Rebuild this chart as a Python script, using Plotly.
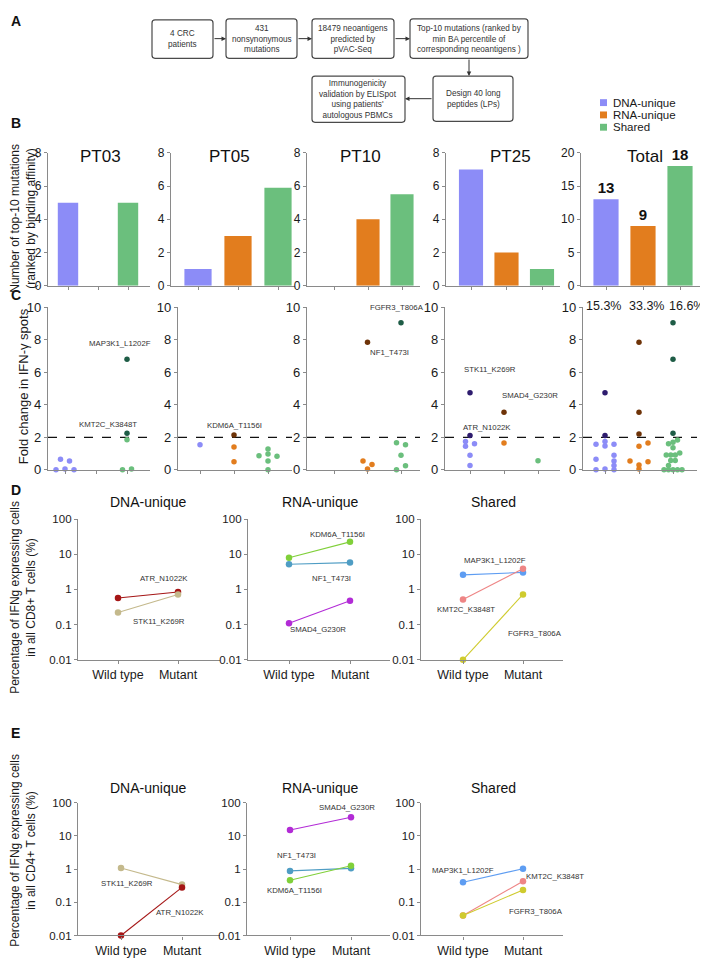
import math
import plotly.graph_objects as go

PAGE_W, PAGE_H = 708, 975
OFF = 8  # default body margin of the page
W, H = PAGE_W - OFF, PAGE_H - OFF
FONT = "Arial, 'Liberation Sans', sans-serif"

# ===================== DATA =====================
groups = ["DNA-unique", "RNA-unique", "Shared"]
patients = ["PT03", "PT05", "PT10", "PT25"]
dna_counts = [5, 1, 0, 7]
rna_counts = [0, 3, 4, 2]
shared_counts = [5, 5.9, 5.5, 1]
total_counts = [13, 9, 18]

# Panel C: fold change in IFN-g spots (group 0=DNA,1=RNA,2=Shared; slot = swarm order; sig = above threshold)
c_pt03_val = [0.0, 0.65, 0.05, 0.55, 0.0, 1.85, 0.0, 0.05, 6.8, 2.25]
c_pt03_grp = [0, 0, 0, 0, 0, 2, 2, 2, 2, 2]
c_pt03_slot = [-2, -1, 0, 1, 2, 0, -1, 1, 0, 0]
c_pt03_sig = [0, 0, 0, 0, 0, 0, 0, 0, 1, 1]

c_pt05_val = [1.55, 1.4, 0.5, 2.15, 0.87, 1.28, 0.97, 0.55, 0.0, 0.83]
c_pt05_grp = [0, 1, 1, 1, 2, 2, 2, 2, 2, 2]
c_pt05_slot = [0, 0, 0, 0, -2, 0, 0, 0, 0, 2]
c_pt05_sig = [0, 0, 0, 1, 0, 0, 0, 0, 0, 0]

c_pt10_val = [0.55, 0.05, 0.33, 7.85, 1.67, 1.55, 0.9, 0.25, 0.0, 9.05]
c_pt10_grp = [1, 1, 1, 1, 2, 2, 2, 2, 2, 2]
c_pt10_slot = [-1, 0, 1, 0, -1, 1, 0, 1, -1, 0]
c_pt10_sig = [0, 0, 0, 1, 0, 0, 0, 0, 0, 1]

c_pt25_val = [1.75, 1.45, 1.6, 0.9, 0.27, 4.75, 2.12, 1.65, 3.55, 0.56]
c_pt25_grp = [0, 0, 0, 0, 0, 0, 0, 1, 1, 2]
c_pt25_slot = [-1, -1, 1, 0, 0, 0, 0, 0, 0, 0]
c_pt25_sig = [0, 0, 0, 0, 0, 1, 1, 0, 1, 0]

c_total_val = [1.58, 0.65, 0.0, 1.75, 1.46, 0.05, 1.58, 0.9, 0.55, 0.27, 0.0, 4.75, 2.12,
               0.55, 1.45, 0.3, 0.05, 1.65, 0.5, 7.85, 3.55, 2.2,
               1.6, 1.7, 1.83, 1.36, 0.91, 0.91, 0.91, 1.03, 0.58, 0.58, 0.27, 0.0, 0.0, 0.0, 0.0, 0.0,
               9.05, 6.8, 2.25]
c_total_grp = [0] * 13 + [1] * 9 + [2] * 19
c_total_slot = [-2, -2, -2, 0, 0, 0, 2, 2, 2, 2, 2, 0, 0,
                -2, 0, 0, 0, 2, 2, 0, 0, 0,
                -1, 0, 1, 0, -1.5, -0.5, 0.5, 1.5, -0.5, 0.5, -1, -2, -1, 0, 1, 2,
                0, 0, 0]
c_total_sig = [0] * 11 + [1, 1] + [0] * 6 + [1, 1, 1] + [0] * 16 + [1, 1, 1]
c_total_pct = ["15.3%", "33.3%", "16.6%"]
c_threshold = 2

# Panels D / E: % IFNg+ cells, [wild type, mutant]
conditions = ["Wild type", "Mutant"]
d_dna_names = ["ATR_N1022K", "STK11_K269R"]
d_dna_vals = [[0.57, 0.85], [0.22, 0.72]]
d_rna_names = ["KDM6A_T1156I", "NF1_T473I", "SMAD4_G230R"]
d_rna_vals = [[8.0, 22.5], [5.2, 5.8], [0.11, 0.48]]
d_sh_names = ["MAP3K1_L1202F", "KMT2C_K3848T", "FGFR3_T806A"]
d_sh_vals = [[2.6, 3.05], [0.52, 3.9], [0.01, 0.72]]

e_dna_names = ["STK11_K269R", "ATR_N1022K"]
e_dna_vals = [[1.07, 0.34], [0.01, 0.28]]
e_rna_names = ["SMAD4_G230R", "NF1_T473I", "KDM6A_T1156I"]
e_rna_vals = [[15.0, 36.0], [0.88, 1.05], [0.46, 1.25]]
e_sh_names = ["MAP3K1_L1202F", "KMT2C_K3848T", "FGFR3_T806A"]
e_sh_vals = [[0.40, 1.02], [0.04, 0.43], [0.04, 0.235]]

# ===================== STYLE =====================
grp_colors = ["#8C8CF7", "#E27D1E", "#6BBF7D"]
sig_colors = ["#2E1C6E", "#6E3308", "#1E5C46"]
mut_colors = {
    "ATR_N1022K": "#A51616", "STK11_K269R": "#C4B98C", "KDM6A_T1156I": "#80D03A",
    "NF1_T473I": "#4F9DC4", "SMAD4_G230R": "#B22BD6", "MAP3K1_L1202F": "#5E9DF2",
    "KMT2C_K3848T": "#EE8585", "FGFR3_T806A": "#CFCB2E",
}
AX = "#8a8a8a"
TXT = "#1a1a1a"


def X(v):
    return (v - OFF) / W


def Y(v):
    return 1 - (v - OFF) / H


fig = go.Figure()
layout = dict(width=W, height=H, autosize=False, margin=dict(l=0, r=0, t=0, b=0),
              paper_bgcolor="white", plot_bgcolor="white", showlegend=False,
              font=dict(family=FONT, color=TXT))
ann = []
shapes = []


def names(i):
    s = "" if i == 1 else str(i)
    return "x" + s, "y" + s, "xaxis" + s, "yaxis" + s


def base_axis(**kw):
    d = dict(showline=True, linecolor=AX, linewidth=1.3, ticks="outside", ticklen=3,
             tickcolor=AX, tickwidth=1.2, showgrid=False, zeroline=False,
             tickfont=dict(size=12, color=TXT, family=FONT))
    d.update(kw)
    return d


# ---------- Panel A: flowchart ----------
def rrect(x0, y0, x1, y1, r=3):
    p = (f"M {X(x0+r)},{Y(y0)} L {X(x1-r)},{Y(y0)} Q {X(x1)},{Y(y0)} {X(x1)},{Y(y0+r)} "
         f"L {X(x1)},{Y(y1-r)} Q {X(x1)},{Y(y1)} {X(x1-r)},{Y(y1)} L {X(x0+r)},{Y(y1)} "
         f"Q {X(x0)},{Y(y1)} {X(x0)},{Y(y1-r)} L {X(x0)},{Y(y0+r)} Q {X(x0)},{Y(y0)} {X(x0+r)},{Y(y0)} Z")
    return dict(type="path", xref="paper", yref="paper", path=p,
                line=dict(color="#4a4a4a", width=1.2))


boxes = [
    ((152, 13, 213, 52), "4 CRC<br>patients"),
    ((226, 12, 297, 52), "431<br>nonsynonymous<br>mutations"),
    ((312, 12, 394, 52), "18479 neoantigens<br>predicted by<br>pVAC-Seq"),
    ((410, 12, 528, 52), "Top-10 mutations (ranked by<br>min BA percentile of<br>corresponding neoantigens )"),
    ((433, 70, 513, 116), "Design 40 long<br>peptides (LPs)"),
    ((312, 70, 405, 117), "Immunogenicity<br>validation by ELISpot<br>using patients'<br>autologous PBMCs"),
]
for (x0, y0, x1, y1), t in boxes:
    shapes.append(rrect(x0, y0, x1, y1))
    ann.append(dict(xref="paper", yref="paper", x=X((x0 + x1) / 2), y=Y((y0 + y1) / 2),
                    text=t, showarrow=False, font=dict(size=8.2, color="#333"),
                    xanchor="center", yanchor="middle"))
arrows = [((226, 32), (-13, 0)), ((312, 32), (-15, 0)), ((410, 32), (-16, 0)),
          ((469, 70), (0, -18)), ((405, 93), (28, 0))]
for (hx, hy), (ax, ay) in arrows:
    ann.append(dict(xref="paper", yref="paper", x=X(hx), y=Y(hy), ax=ax, ay=ay, text="",
                    showarrow=True, arrowhead=2, arrowsize=0.9, arrowwidth=1,
                    arrowcolor="#333", standoff=0, startstandoff=0))

# panel letters
for lab, ly in zip("ABCDE", [14, 118, 292, 490, 737]):
    ann.append(dict(xref="paper", yref="paper", x=X(9), y=Y(ly), text="<b>%s</b>" % lab,
                    showarrow=False, font=dict(size=14, color="#111"), xanchor="left",
                    yanchor="middle"))

# legend
for k, g in enumerate(groups):
    yc = 97 + 12.5 * k
    shapes.append(dict(type="rect", xref="paper", yref="paper", x0=X(600), x1=X(607),
                       y0=Y(yc + 3.5), y1=Y(yc - 3.5), fillcolor=grp_colors[k],
                       line=dict(width=0)))
    ann.append(dict(xref="paper", yref="paper", x=X(611), y=Y(yc), text=g, showarrow=False,
                    xanchor="left", yanchor="middle", font=dict(size=11.5, color=TXT)))

# ---------- Panel B ----------
b_geom = [(48, 150, 68, 30), (171, 295, 198, 40), (307, 420, 334, 34),
          (446, 560, 471, 35.5), (581, 702, 606, 37)]
b_top, b_bot = 148, 283
b_titles_x = [100, 230, 360, 510, 645]
b_series = [[dna_counts[i], rna_counts[i], shared_counts[i]] for i in range(4)] + [total_counts]
for i in range(5):
    xn, yn, xk, yk = names(i + 1)
    x0, x1, c0, sp = b_geom[i]
    is_total = i == 4
    fig.add_trace(go.Bar(
        x=[0, 1, 2], y=b_series[i], xaxis=xn, yaxis=yn, width=0.68,
        marker=dict(color=grp_colors, line=dict(width=0)),
        texttemplate="<b>%{y}</b>" if is_total else None,
        textposition="outside" if is_total else None,
        textfont=dict(size=15, color="#111"), cliponaxis=False))
    layout[xk] = base_axis(domain=[X(x0), X(x1)], anchor=yn,
                           range=[(x0 - c0) / sp, (x1 - c0) / sp],
                           tickvals=[0, 1, 2], showticklabels=False)
    layout[yk] = base_axis(domain=[Y(b_bot), Y(b_top)], anchor=xn,
                           range=[0, 20] if is_total else [0, 8],
                           tickvals=[0, 5, 10, 15, 20] if is_total else [0, 2, 4, 6, 8])
    ann.append(dict(xref="paper", yref="paper", x=X(b_titles_x[i]), y=Y(152),
                    text=(patients[i] if i < 4 else "Total"), showarrow=False,
                    xanchor="center", yanchor="middle", font=dict(size=17, color="#111")))

ann.append(dict(xref="paper", yref="paper", x=X(23), y=Y(215),
                text="Number of top-10 mutations<br>(ranked by binding affinity)",
                textangle=-90, showarrow=False, font=dict(size=12, color=TXT),
                xanchor="center", yanchor="middle"))

# ---------- Panel C ----------
c_geom = [(48, 150, 65, 31), (178, 292, 200, 34), (307, 420, 334, 33.5),
          (445, 560, 470, 34), (583, 697, 605, 34)]
c_top, c_bot = 305, 470
slot_px = 4.5
c_sets = [(c_pt03_val, c_pt03_grp, c_pt03_slot, c_pt03_sig),
          (c_pt05_val, c_pt05_grp, c_pt05_slot, c_pt05_sig),
          (c_pt10_val, c_pt10_grp, c_pt10_slot, c_pt10_sig),
          (c_pt25_val, c_pt25_grp, c_pt25_slot, c_pt25_sig),
          (c_total_val, c_total_grp, c_total_slot, c_total_sig)]
for i in range(5):
    xn, yn, xk, yk = names(i + 6)
    x0, x1, c0, sp = c_geom[i]
    vals, grp, slot, sig = c_sets[i]
    xs = [g + s * slot_px / sp for g, s in zip(grp, slot)]
    cols = [sig_colors[g] if s else grp_colors[g] for g, s in zip(grp, sig)]
    fig.add_trace(go.Scatter(
        x=[(x0 - c0) / sp, (x1 - c0) / sp], y=[c_threshold, c_threshold],
        mode="lines", line=dict(color="#111", width=1.2, dash="dash"),
        xaxis=xn, yaxis=yn, hoverinfo="skip"))
    fig.add_trace(go.Scatter(x=xs, y=vals, mode="markers", xaxis=xn, yaxis=yn,
                             marker=dict(color=cols, size=5.5, line=dict(width=0)),
                             cliponaxis=False))
    layout[xk] = base_axis(domain=[X(x0), X(x1)], anchor=yn,
                           range=[(x0 - c0) / sp, (x1 - c0) / sp],
                           tickvals=[0, 1, 2], showticklabels=False)
    layout[yk] = base_axis(domain=[Y(c_bot), Y(c_top)], anchor=xn, range=[0, 10],
                           tickvals=[0, 2, 4, 6, 8, 10], tickfont=dict(size=13, color=TXT))

ann.append(dict(xref="paper", yref="paper", x=X(23), y=Y(385),
                text="Fold change in IFN-γ spots", textangle=-90, showarrow=False,
                font=dict(size=13, color=TXT), xanchor="center", yanchor="middle"))

c_labels = [
    (6, "MAP3K1_L1202F", 1.78, 7.8), (6, "KMT2C_K3848T", 1.39, 2.8),
    (7, "KDM6A_T1156I", 1.0, 2.75),
    (8, "FGFR3_T806A", 1.88, 10.0), (8, "NF1_T473I", 1.67, 7.2),
    (9, "STK11_K269R", 0.6, 6.15), (9, "SMAD4_G230R", 1.76, 4.6), (9, "ATR_N1022K", 0.5, 2.6),
]
for ax_i, t, lx, ly in c_labels:
    xn, yn, _, _ = names(ax_i)
    ann.append(dict(xref=xn, yref=yn, x=lx, y=ly, text=t, showarrow=False,
                    font=dict(size=7.8, color="#333"), xanchor="center", yanchor="middle"))
for k, t in enumerate(c_total_pct):
    ann.append(dict(xref="paper", yref="paper", x=X([603, 646, 686][k]), y=Y(304), text=t,
                    showarrow=False, font=dict(size=12.5, color=TXT), xanchor="center",
                    yanchor="middle"))

# ---------- Panels D and E ----------
pe_geom = [(78, 220, 118, 60), (248, 390, 289, 61), (421, 563, 463, 60)]
pe_geom_e = [(78, 220, 121, 61), (247, 390, 290, 61), (421, 563, 463, 60)]
sub_titles = ["DNA-unique", "RNA-unique", "Shared"]
title_x = [148, 320, 493]
log_ticks = [0.01, 0.1, 1, 10, 100]
log_text = ["0.01", "0.1", "1", "10", "100"]

d_sets = [(d_dna_names, d_dna_vals), (d_rna_names, d_rna_vals), (d_sh_names, d_sh_vals)]
e_sets = [(e_dna_names, e_dna_vals), (e_rna_names, e_rna_vals), (e_sh_names, e_sh_vals)]

d_labels = [
    [("ATR_N1022K", 0.77, 2.0), ("STK11_K269R", 0.68, 0.125)],
    [("KDM6A_T1156I", 0.79, 36), ("NF1_T473I", 0.7, 2.0), ("SMAD4_G230R", 0.48, 0.075)],
    [("MAP3K1_L1202F", 0.53, 6.5), ("KMT2C_K3848T", 0.05, 0.27), ("FGFR3_T806A", 1.2, 0.056)],
]
e_labels = [
    [("STK11_K269R", 0.1, 0.37), ("ATR_N1022K", 0.97, 0.048)],
    [("SMAD4_G230R", 0.93, 70), ("NF1_T473I", 0.11, 2.5), ("KDM6A_T1156I", 0.08, 0.22)],
    [("MAP3K1_L1202F", 0.0, 0.88), ("KMT2C_K3848T", 1.53, 0.6), ("FGFR3_T806A", 1.22, 0.051)],
]

for sets, geom, top, bot, ttl_y, labels, base in [
        (d_sets, pe_geom, 520, 663, 503, d_labels, 11),
        (e_sets, pe_geom_e, 808, 943, 793, e_labels, 14)]:
    for j in range(3):
        xn, yn, xk, yk = names(base + j)
        x0, x1, c0, sp = geom[j]
        nm, vals = sets[j]
        for n, v in zip(nm, vals):
            col = mut_colors[n]
            fig.add_trace(go.Scatter(x=[0, 1], y=v, mode="lines+markers", xaxis=xn, yaxis=yn,
                                     line=dict(color=col, width=1.1),
                                     marker=dict(color=col, size=6.5), cliponaxis=False))
        layout[xk] = base_axis(domain=[X(x0), X(x1)], anchor=yn,
                               range=[(x0 - c0) / sp, (x1 - c0) / sp],
                               tickvals=[0, 1], ticktext=conditions,
                               tickfont=dict(size=12.5, color=TXT))
        layout[yk] = base_axis(domain=[Y(bot), Y(top)], anchor=xn, type="log", range=[-2, 2],
                               tickvals=log_ticks, ticktext=log_text,
                               tickfont=dict(size=11.5, color=TXT))
        ann.append(dict(xref="paper", yref="paper", x=X(title_x[j]), y=Y(ttl_y),
                        text=sub_titles[j], showarrow=False, xanchor="center",
                        yanchor="middle", font=dict(size=14, color="#111")))
        for t, lx, ly in labels[j]:
            ann.append(dict(xref=xn, yref=yn, x=lx, y=math.log10(ly), text=t,
                            showarrow=False, font=dict(size=7.8, color="#333"),
                            xanchor="center", yanchor="middle"))

ann.append(dict(xref="paper", yref="paper", x=X(23), y=Y(600),
                text="Percentage of IFNg expressing cells<br>in all CD8+ T cells (%)",
                textangle=-90, showarrow=False, font=dict(size=12, color=TXT),
                xanchor="center", yanchor="middle"))
ann.append(dict(xref="paper", yref="paper", x=X(23), y=Y(857),
                text="Percentage of IFNg expressing cells<br>in all CD4+ T cells (%)",
                textangle=-90, showarrow=False, font=dict(size=12, color=TXT),
                xanchor="center", yanchor="middle"))

layout["annotations"] = ann
layout["shapes"] = shapes
fig.update_layout(**layout)
fig.write_html("out.html")
